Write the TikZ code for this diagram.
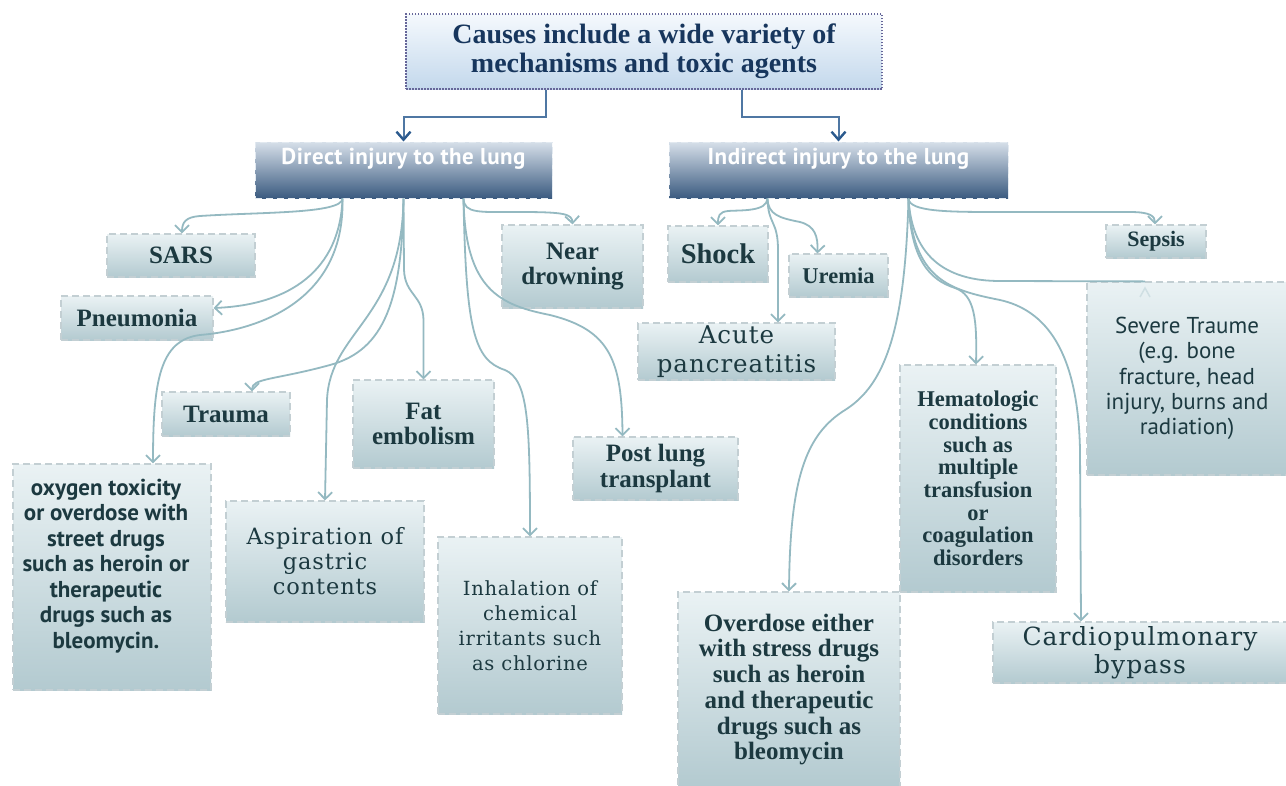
\documentclass[tikz,border=0pt]{standalone}
\usepackage{fontspec}
\setmainfont{Liberation Serif}
\newfontfamily\slabfont{DejaVu Serif}[LetterSpace=4]
\newfontfamily\condfont{PT Sans}
\newfontfamily\headfont{PT Sans}[LetterSpace=2]
\usetikzlibrary{arrows.meta}
\definecolor{leaftop}{HTML}{EAF2F4}
\definecolor{leafbot}{HTML}{B3CAD0}
\definecolor{leafline}{HTML}{C3CFD3}
\definecolor{txtc}{HTML}{1C3940}
\definecolor{linec}{HTML}{94B9C1}
\definecolor{navy}{HTML}{17365D}
\definecolor{toptop}{HTML}{F5F9FD}
\definecolor{topbot}{HTML}{C3D8EC}
\definecolor{headtop}{HTML}{D6DFE9}
\definecolor{headbot}{HTML}{3B5B80}
\definecolor{toplinec}{HTML}{4F77A3}
\definecolor{toptip}{HTML}{2B5A8E}

\begin{document}
\begin{tikzpicture}[x=1pt,y=-1pt,
    leaf/.style={draw=leafline, line width=1.2pt, dash pattern=on 7pt off 4pt,
      top color=leaftop, bottom color=leafbot, inner sep=0pt, align=center, text=txtc},
    boldtxt/.style={font=\bfseries\fontsize{25}{25.7}\selectfont},
    slabtxt/.style={font=\slabfont\fontsize{22.5}{25}\selectfont},
    sanstxt/.style={font=\condfont\fontsize{23}{25.3}\selectfont},
    headbox/.style={draw=headtop!70!white, line width=1pt, dash pattern=on 7pt off 4pt,
      top color=headtop, bottom color=headbot, inner sep=0pt},
    headtxt/.style={text=white, font=\headfont\bfseries\fontsize{23}{26}\selectfont},
    link/.style={draw=linec, line width=1.8pt, -{Straight Barb[length=7pt,width=14pt]}},
    toplink/.style={draw=toplinec, line width=2pt, -{Straight Barb[length=8pt,width=14pt,color=toptip,line width=2.4pt]}}]
\useasboundingbox[fill=white] (0,0) rectangle (1286,785);

% title and the two branches
\node[draw=gray!80!blue, line width=1.2pt, dash pattern=on 1.5pt off 1.5pt, top color=toptop, bottom color=topbot,
  minimum width=476, minimum height=75, inner sep=0pt, align=center, text=navy,
  font=\bfseries\fontsize{28}{29}\selectfont] (top) at (644,51.5)
  {Causes include a wide variety of\\mechanisms and toxic agents};
\node[headbox, minimum width=297, minimum height=56] (dir) at (403.5,170) {};
\node[headtxt] (dirtxt) at (403.5,159) {Direct injury to the lung};
\node[headbox, minimum width=339, minimum height=56] (ind) at (838.5,170) {};
\node[headtxt] (indtxt) at (838.5,159) {Indirect injury to the lung};

% direct causes
\node[leaf, boldtxt, minimum width=148, minimum height=43, font=\bfseries\fontsize{25}{26}\selectfont] (sars) at (181,255.5) {SARS};
\node[leaf, boldtxt, minimum width=152, minimum height=44] (pneu) at (137,318) {Pneumonia};
\node[leaf, boldtxt, minimum width=128, minimum height=44] (trauma) at (226,414) {Trauma};
\node[leaf, boldtxt, minimum width=141, minimum height=88] (fat) at (423.5,424) {Fat\\embolism};
\node[leaf, minimum width=198, minimum height=226] (oxy) at (112,577) {};
\node[text=txtc, align=center, font=\condfont\bfseries\fontsize{23}{25.5}\selectfont] (oxytxt) at (106,566)
  {oxygen toxicity\\or overdose with\\street drugs\\such as heroin or\\therapeutic\\drugs such as\\bleomycin.};
\node[leaf, slabtxt, minimum width=198, minimum height=121] (asp) at (325,561.5) {Aspiration of\\gastric\\contents};
\node[leaf, minimum width=184, minimum height=177, font=\slabfont\fontsize{19.5}{25}\selectfont] (inh) at (530,625.5)
  {Inhalation of\\chemical\\irritants such\\as chlorine};
\node[leaf, boldtxt, minimum width=141, minimum height=83] (near) at (572.5,266.5) {Near\\drowning};
\node[leaf, boldtxt, minimum width=165, minimum height=63] (post) at (655.5,468.5) {Post lung\\transplant};

% indirect causes
\node[leaf, boldtxt, minimum width=100, minimum height=56, font=\bfseries\fontsize{28.5}{30}\selectfont] (shock) at (718,254) {Shock};
\node[leaf, boldtxt, minimum width=99, minimum height=43, font=\bfseries\fontsize{22.5}{24}\selectfont] (urem) at (838.5,275.5) {Uremia};
\node[leaf, minimum width=197, minimum height=57, font=\slabfont\fontsize{24.5}{29}\selectfont] (acute) at (736.5,351.5) {Acute\\pancreatitis};
\node[leaf, boldtxt, minimum width=100, minimum height=33, font=\bfseries\fontsize{22}{24}\selectfont] (sepsis) at (1156,241.5) {Sepsis};
\node[leaf, sanstxt, minimum width=200, minimum height=193] (sev) at (1187,378.5)
  {Severe Traume\\(e.g. bone\\fracture, head\\injury, burns and\\radiation)};
\node[leaf, minimum width=156, minimum height=227, font=\bfseries\fontsize{22.5}{22.7}\selectfont] (hem) at (978,478.5)
  {Hematologic\\conditions\\such as\\multiple\\transfusion\\or\\coagulation\\disorders};
\node[leaf, boldtxt, minimum width=222, minimum height=195] (over) at (789,689.5)
  {Overdose either\\with stress drugs\\such as heroin\\and therapeutic\\drugs such as\\bleomycin};
\node[leaf, minimum width=294, minimum height=61, font=\slabfont\fontsize{25}{28}\selectfont] (cardio) at (1140,652.5) {Cardiopulmonary\\bypass};

% title to branches
\draw[toplink] ([xshift=-98pt]top.south) -- ++(0,27) -| (dir.north);
\draw[toplink] ([xshift=98pt]top.south) -- ++(0,27) -| (ind.north);

% direct injury
\draw[link] ([xshift=-61pt]dir.south) .. controls (342,214) and (260,212) .. (200,216) .. controls (186,217) and (182,222) .. ([xshift=1pt]sars.north);
\draw[link] ([xshift=-61pt]dir.south) .. controls (340,270) and (290,305) .. ([yshift=10pt]pneu.east);
\draw[link] ([xshift=-61pt]dir.south) .. controls (345,300) and (260,330) .. (200,335) .. controls (160,340) and (153,380) .. ([xshift=41pt]oxy.north);
\draw[link] (dir.south) .. controls (402,300) and (385,350) .. (330,365) .. controls (275,380) and (252,378) .. ([xshift=26pt]trauma.north);
\draw[link] (dir.south) .. controls (402,320) and (330,330) .. (327,400) -- (asp.north);
\draw[link] (dir.south) -- (404,270) .. controls (405,295) and (423,295) .. (423.5,320) -- (fat.north);
\draw[link] ([xshift=60pt]dir.south) .. controls (464,214) and (480,212) .. (520,212) .. controls (565,212) and (572,214) .. (near.north);
\draw[link] ([xshift=60pt]dir.south) .. controls (465,290) and (500,305) .. (550,315) .. controls (610,330) and (622,360) .. ([xshift=-33pt]post.north);
\draw[link] ([xshift=60pt]dir.south) .. controls (466,330) and (474,360) .. (505,370) .. controls (528,380) and (530,420) .. (inh.north);

% indirect injury
\draw[link] ([xshift=-71pt]ind.south) .. controls (767,212) and (740,210) .. (728,211) .. controls (719,212) and (718,216) .. (shock.north);
\draw[link] ([xshift=-71pt]ind.south) .. controls (768,215) and (780,218) .. (800,222) .. controls (815,226) and (818,236) .. ([xshift=-21pt]urem.north);
\draw[link] ([xshift=-71pt]ind.south) .. controls (768,225) and (778,220) .. (778,250) -- ([xshift=41.5pt]acute.north);
\draw[link] ([xshift=70pt]ind.south) .. controls (909,212) and (950,212) .. (1000,212) -- (1130,212) .. controls (1150,212) and (1155,216) .. ([xshift=-1pt]sepsis.north);
\draw[link, -] ([xshift=70pt]ind.south) .. controls (912,260) and (950,281) .. (1000,281) -- ([xshift=-42pt]sev.north);
\draw[linec!45, line width=1.5pt] (1140,297) -- (1145,288) -- (1150,297);
\draw[link] ([xshift=70pt]ind.south) .. controls (910,260) and (930,280) .. (955,288) .. controls (975,295) and (977,320) .. ([xshift=-2pt]hem.north);
\draw[link] ([xshift=70pt]ind.south) .. controls (912,280) and (950,290) .. (1000,300) .. controls (1045,310) and (1078,350) .. (1080,450) -- ([xshift=-59pt]cardio.north);
\draw[link] ([xshift=70pt]ind.south) .. controls (905,330) and (885,385) .. (845,410) .. controls (805,435) and (790,480) .. (over.north);
\end{tikzpicture}
\end{document}
